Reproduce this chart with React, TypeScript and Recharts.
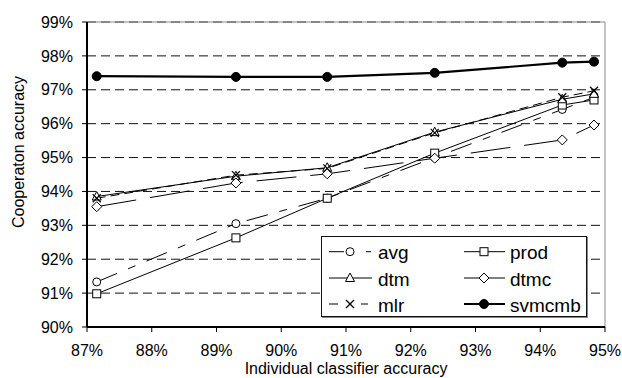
import React from 'react';
import { LineChart, Line, XAxis, YAxis, CartesianGrid, Legend, ReferenceLine } from 'recharts';

const xValues = [87.15, 89.3, 90.71, 92.37, 94.34, 94.83];
const avg = [91.33, 93.05, 93.8, 95.0, 96.42, 96.78];
const prod = [90.98, 92.63, 93.8, 95.13, 96.55, 96.7];
const dtm = [93.85, 94.45, 94.7, 95.75, 96.72, 96.88];
const dtmc = [93.55, 94.25, 94.52, 94.98, 95.52, 95.96];
const mlr = [93.8, 94.48, 94.68, 95.73, 96.78, 96.97];
const svmcmb = [97.4, 97.38, 97.38, 97.5, 97.8, 97.83];

const xTicks = [87, 88, 89, 90, 91, 92, 93, 94, 95];
const yTicks = [90, 91, 92, 93, 94, 95, 96, 97, 98, 99];

const data = xValues.map((x, i) => ({
  x,
  avg: avg[i],
  prod: prod[i],
  dtm: dtm[i],
  dtmc: dtmc[i],
  mlr: mlr[i],
  svmcmb: svmcmb[i],
}));

const FONT = '"Liberation Sans", Arial, sans-serif';

type Shape = 'circle' | 'square' | 'triangle' | 'diamond' | 'cross' | 'dot';

function marker(shape: Shape, cx: number, cy: number, key?: string | number) {
  const s = { stroke: '#000', strokeWidth: 1, fill: '#fff' };
  switch (shape) {
    case 'circle':
      return <circle key={key} cx={cx} cy={cy} r={4} {...s} />;
    case 'square':
      return <rect key={key} x={cx - 4} y={cy - 4} width={8} height={8} {...s} />;
    case 'triangle':
      return (
        <polygon key={key} points={`${cx},${cy - 5} ${cx - 4.5},${cy + 3.5} ${cx + 4.5},${cy + 3.5}`} {...s} />
      );
    case 'diamond':
      return <polygon key={key} points={`${cx},${cy - 5} ${cx + 5},${cy} ${cx},${cy + 5} ${cx - 5},${cy}`} {...s} />;
    case 'cross':
      return (
        <g key={key}>
          <line x1={cx - 4} y1={cy - 4} x2={cx + 4} y2={cy + 4} stroke="#000" strokeWidth={1.2} />
          <line x1={cx - 4} y1={cy + 4} x2={cx + 4} y2={cy - 4} stroke="#000" strokeWidth={1.2} />
        </g>
      );
    case 'dot':
    default:
      return <circle key={key} cx={cx} cy={cy} r={4.5} fill="#000" stroke="#000" />;
  }
}

const makeDot = (shape: Shape) => (props: any) => {
  const { cx, cy, index } = props;
  if (cx == null || cy == null) return <g key={`e${index}`} />;
  return marker(shape, cx, cy, `${shape}-${index}`);
};

type SeriesDef = {
  key: string;
  name: string;
  shape: Shape;
  dash?: string;
  width: number;
};

const series: SeriesDef[] = [
  { key: 'avg', name: 'avg', shape: 'circle', dash: '22 12 8 12', width: 1 },
  { key: 'prod', name: 'prod', shape: 'square', width: 1 },
  { key: 'dtm', name: 'dtm', shape: 'triangle', width: 1 },
  { key: 'dtmc', name: 'dtmc', shape: 'diamond', dash: '40 14', width: 1 },
  { key: 'mlr', name: 'mlr', shape: 'cross', dash: '9 5', width: 1 },
  { key: 'svmcmb', name: 'svmcmb', shape: 'dot', width: 2.2 },
];

const legendOrder = ['avg', 'prod', 'dtm', 'dtmc', 'mlr', 'svmcmb'];

function LegendBox() {
  const rows = [15.7, 42, 68];
  const cols = [
    { x1: 7, x2: 50, m: 28, t: 56 },
    { x1: 142, x2: 183, m: 162, t: 188 },
  ];
  return (
    <div
      style={{
        width: 266,
        height: 81,
        boxSizing: 'border-box',
        border: '1px solid #111',
        boxShadow: '1px 1px 0 #888',
        background: '#fff',
      }}
    >
      <svg width={264} height={79} style={{ display: 'block' }}>
        {legendOrder.map((k, i) => {
          const s = series.find((d) => d.key === k)!;
          const y = rows[Math.floor(i / 2)] - 1;
          const c = cols[i % 2];
          let lines: React.ReactNode;
          if (k === 'avg') {
            lines = (
              <g>
                <line x1={c.x1} y1={y} x2={c.m - 6} y2={y} stroke="#000" strokeWidth={1} />
                <line x1={c.x1 + 37} y1={y} x2={c.x2 - 1} y2={y} stroke="#000" strokeWidth={1} />
              </g>
            );
          } else if (k === 'mlr') {
            lines = (
              <g>
                <line x1={c.x1} y1={y} x2={c.x1 + 9} y2={y} stroke="#000" strokeWidth={1} />
                <line x1={c.x1 + 32} y1={y} x2={c.x1 + 39} y2={y} stroke="#000" strokeWidth={1} />
              </g>
            );
          } else {
            lines = <line x1={c.x1} y1={y} x2={c.x2} y2={y} stroke="#000" strokeWidth={s.width} />;
          }
          return (
            <g key={k}>
              {lines}
              {marker(s.shape, c.m, y)}
              <text x={c.t} y={y + 1} fontFamily={FONT} fontSize={19} fill="#000" dominantBaseline="central">
                {s.name}
              </text>
            </g>
          );
        })}
      </svg>
    </div>
  );
}

export default function App() {
  return (
    <div style={{ position: 'absolute', left: 0, top: 0, background: '#fff' }}>
      <LineChart width={622} height={378} data={data} margin={{ top: 22, right: 17, left: 0, bottom: 21 }}>
        <ReferenceLine y={99} stroke="#888" strokeWidth={1} ifOverflow="visible" />
        <ReferenceLine x={95} stroke="#888" strokeWidth={1} ifOverflow="visible" />
        <CartesianGrid horizontal vertical={false} stroke="#111" strokeDasharray="9 5" />
        <XAxis
          type="number"
          dataKey="x"
          domain={[87, 95]}
          ticks={xTicks}
          allowDataOverflow
          tickFormatter={(v: number) => `${v}%`}
          height={30}
          tickSize={5}
          tickMargin={13}
          axisLine={{ stroke: '#000', strokeWidth: 2 }}
          tickLine={{ stroke: '#000' }}
          tick={{ fill: '#000', fontSize: 16, fontFamily: FONT }}
          label={{
            value: 'Individual classifier accuracy',
            position: 'bottom',
            offset: 6,
            fill: '#000',
            fontSize: 16,
            fontFamily: FONT,
          }}
        />
        <YAxis
          type="number"
          domain={[90, 99]}
          ticks={yTicks}
          allowDataOverflow
          tickFormatter={(v: number) => `${v}%`}
          width={87}
          tickSize={5}
          tickMargin={9}
          axisLine={{ stroke: '#000', strokeWidth: 2 }}
          tickLine={{ stroke: '#000' }}
          tick={{ fill: '#000', fontSize: 16, fontFamily: FONT }}
          label={{
            content: (props: any) => {
              const vb = props.viewBox || { x: 0, y: 22, width: 87, height: 305 };
              const cx = vb.x + 18;
              const cy = vb.y + 130;
              return (
                <text
                  x={cx}
                  y={cy}
                  transform={`rotate(-90, ${cx}, ${cy})`}
                  textAnchor="middle"
                  dominantBaseline="central"
                  fontSize={16}
                  fontFamily={FONT}
                  fill="#000"
                >
                  Cooperaton accuracy
                </text>
              );
            },
          }}
        />
        {series.map((s) => (
          <Line
            key={s.key}
            type="linear"
            dataKey={s.key}
            name={s.name}
            stroke="#000"
            strokeWidth={s.width}
            strokeDasharray={s.dash}
            dot={makeDot(s.shape)}
            activeDot={false}
            isAnimationActive={false}
          />
        ))}
        <Legend
          layout="horizontal"
          verticalAlign="middle"
          align="center"
          wrapperStyle={{ left: 321, top: 236, width: 266, height: 81 }}
          content={() => <LegendBox />}
        />
      </LineChart>
    </div>
  );
}
